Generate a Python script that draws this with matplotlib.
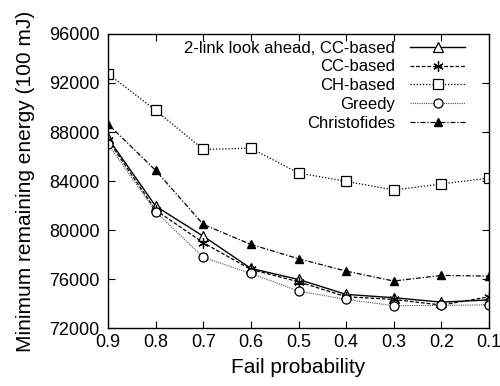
import matplotlib
matplotlib.use('Agg')
import matplotlib.pyplot as plt

plt.rcParams['font.family'] = ['Liberation Sans', 'DejaVu Sans']

# values
fail_prob = [0.9, 0.8, 0.7, 0.6, 0.5, 0.4, 0.3, 0.2, 0.1]
two_link = [87500, 81950, 79500, 76870, 75970, 74750, 74480, 74120, 74300]
cc_based = [87350, 81630, 78970, 76790, 75780, 74560, 74340, 73880, 74550]
ch_based = [92750, 89780, 86580, 86680, 84650, 83980, 83270, 83760, 84240]
greedy = [87020, 81500, 77770, 76460, 75020, 74340, 73830, 73850, 73900]
christofides = [88650, 84870, 80460, 78830, 77660, 76650, 75840, 76300, 76240]

y_ticks = [72000, 76000, 80000, 84000, 88000, 92000, 96000]
x_ticks = [0.9, 0.8, 0.7, 0.6, 0.5, 0.4, 0.3, 0.2, 0.1]

fig = plt.figure(figsize=(5.0, 3.86), dpi=100)
ax = fig.add_axes([0.216, 0.150, 0.762, 0.762])

ax.plot(fail_prob, two_link, color='black', lw=1.0, ls='-',
        marker='^', ms=6.5, mfc='white', mec='black', mew=0.9,
        label='2-link look ahead, CC-based')
ax.plot(fail_prob, cc_based, color='black', lw=0.9, ls=(0, (3, 1.5)),
        marker=(6, 2, 0), ms=7.5, mec='black', mew=0.9,
        label='CC-based')
ax.plot(fail_prob, ch_based, color='black', lw=0.9, ls=(0, (1, 1.5)),
        marker='s', ms=6.5, mfc='white', mec='black', mew=0.9,
        label='CH-based')
ax.plot(fail_prob, greedy, color='#555555', lw=0.8, ls=(0, (1, 1)),
        marker='o', ms=6.5, mfc='white', mec='black', mew=0.9,
        label='Greedy')
ax.plot(fail_prob, christofides, color='black', lw=0.9, ls=(0, (4, 1.5, 1, 1.5)),
        marker='^', ms=6, mfc='black', mec='black',
        label='Christofides')

ax.set_xlim(0.9, 0.1)
ax.set_ylim(72000, 96000)
ax.set_xticks(x_ticks)
ax.set_xticklabels([f'{v:.1f}' for v in x_ticks])
ax.set_yticks(y_ticks)
ax.tick_params(direction='in', top=True, right=True, length=5, width=0.8,
               labelsize=13)
ax.tick_params(axis='x', pad=4)
ax.tick_params(axis='y', pad=6)
for s in ax.spines.values():
    s.set_linewidth(1.0)

ax.set_xlabel('Fail probability', fontsize=15, labelpad=5)
ax.set_ylabel('Minimum remaining energy (100 mJ)', fontsize=15, labelpad=10)

leg = ax.legend(loc='upper right', bbox_to_anchor=(0.955, 1.0), frameon=False,
                markerfirst=False, fontsize=12, handlelength=3.3,
                handletextpad=0.9, labelspacing=0.23, borderaxespad=0.0)
for t in leg.get_texts():
    t.set_ha('right')
leg._legend_box.align = 'right'

fig.savefig('out.png', dpi=100)
